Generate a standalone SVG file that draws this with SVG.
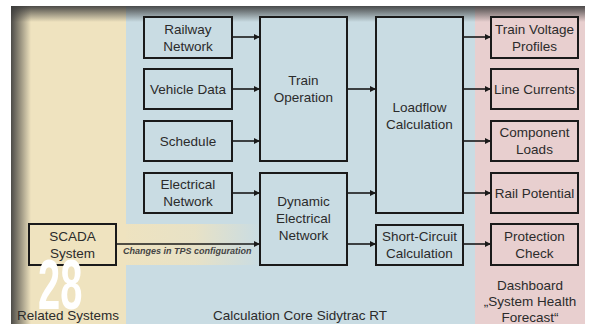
<svg xmlns="http://www.w3.org/2000/svg" width="589" height="324" viewBox="0 0 589 324">
<defs>
<linearGradient id="vTop" x1="0" y1="0" x2="0" y2="1">
<stop offset="0" stop-color="#3a3a3a" stop-opacity="0.9"/>
<stop offset="1" stop-color="#3a3a3a" stop-opacity="0"/>
</linearGradient>
<linearGradient id="vLeft" x1="0" y1="0" x2="1" y2="0">
<stop offset="0" stop-color="#3a3a3a" stop-opacity="0.9"/>
<stop offset="1" stop-color="#3a3a3a" stop-opacity="0"/>
</linearGradient>
<linearGradient id="band" x1="0" y1="0" x2="1" y2="0">
<stop offset="0" stop-color="#efe3bf" stop-opacity="1"/>
<stop offset="0.55" stop-color="#efe3bf" stop-opacity="0.8"/>
<stop offset="1" stop-color="#efe3bf" stop-opacity="0"/>
</linearGradient>
<marker id="ah" viewBox="0 0 8 8" refX="8" refY="4" markerWidth="6" markerHeight="6" markerUnits="userSpaceOnUse" orient="auto">
<path d="M0,0 L8,4 L0,8 z" fill="#1a1a1a"/>
</marker>
<style>
.box{stroke:#1a1a1a;stroke-width:2}
.b{fill:#c9dce3}
.y{fill:#efe3bf}
.p{fill:#e8cfcf}
.t{font-family:"Liberation Sans",Arial,sans-serif;font-size:13.5px;fill:#2b2b2b;text-anchor:middle}
.r{font-family:"Liberation Sans",Arial,sans-serif;font-size:13.5px;fill:#2b2b2b}
.c{stroke:#1a1a1a;stroke-width:1.6;fill:none;marker-end:url(#ah)}
.s{font-family:"Liberation Sans",Arial,sans-serif;font-size:9px;font-style:italic;font-weight:bold;fill:#444}
</style>
</defs>
<rect x="0" y="0" width="589" height="324" fill="#ffffff"/>
<rect x="11" y="6" width="115" height="318" fill="#efe3bf"/>
<rect x="126" y="6" width="349" height="318" fill="#c9dce3"/>
<rect x="475" y="6" width="110" height="318" fill="#e8cfcf"/>
<rect x="116" y="224" width="144" height="41" fill="url(#band)"/>
<rect x="11" y="6" width="574" height="16" fill="url(#vTop)"/>
<rect x="11" y="6" width="20" height="318" fill="url(#vLeft)"/>

<g id="connectors">
<line class="c" x1="232" y1="37" x2="260" y2="37"/>
<line class="c" x1="232" y1="89" x2="260" y2="89"/>
<line class="c" x1="232" y1="141" x2="260" y2="141"/>
<line class="c" x1="232" y1="193" x2="260" y2="193"/>
<line class="c" x1="347" y1="89" x2="376" y2="89"/>
<line class="c" x1="347" y1="193" x2="376" y2="193"/>
<line class="c" x1="347" y1="244" x2="376" y2="244"/>
<line class="c" x1="463" y1="37" x2="491" y2="37"/>
<line class="c" x1="463" y1="89" x2="491" y2="89"/>
<line class="c" x1="463" y1="141" x2="491" y2="141"/>
<line class="c" x1="463" y1="193" x2="491" y2="193"/>
<line class="c" x1="463" y1="244" x2="491" y2="244"/>
<line class="c" x1="116" y1="244" x2="260" y2="244"/>
<text class="s" x="123" y="254">Changes in TPS configuration</text>
</g>

<g id="railway"><rect class="box b" x="144" y="17" width="88" height="41"/><text class="t" x="188" y="34">Railway</text><text class="t" x="188" y="51">Network</text></g>
<g id="vehicle"><rect class="box b" x="144" y="69" width="88" height="40"/><text class="t" x="188" y="94">Vehicle Data</text></g>
<g id="schedule"><rect class="box b" x="144" y="121" width="88" height="40"/><text class="t" x="188" y="146">Schedule</text></g>
<g id="electrical"><rect class="box b" x="144" y="173" width="88" height="40"/><text class="t" x="188" y="189">Electrical</text><text class="t" x="188" y="206">Network</text></g>
<g id="trainop"><rect class="box b" x="260" y="17" width="87" height="144"/><text class="t" x="303.5" y="85">Train</text><text class="t" x="303.5" y="102">Operation</text></g>
<g id="dynamic"><rect class="box b" x="260" y="173" width="87" height="92"/><text class="t" x="303.5" y="206">Dynamic</text><text class="t" x="303.5" y="223">Electrical</text><text class="t" x="303.5" y="240">Network</text></g>
<g id="loadflow"><rect class="box b" x="376" y="17" width="87" height="196"/><text class="t" x="419.5" y="112">Loadflow</text><text class="t" x="419.5" y="129">Calculation</text></g>
<g id="shortcircuit"><rect class="box b" x="376" y="225" width="87" height="40"/><text class="t" x="419.5" y="241">Short-Circuit</text><text class="t" x="419.5" y="258">Calculation</text></g>
<g id="voltage"><rect class="box p" x="491" y="17" width="87" height="41"/><text class="t" x="534.5" y="34">Train Voltage</text><text class="t" x="534.5" y="51">Profiles</text></g>
<g id="currents"><rect class="box p" x="491" y="69" width="87" height="40"/><text class="t" x="534.5" y="94">Line Currents</text></g>
<g id="loads"><rect class="box p" x="491" y="121" width="87" height="40"/><text class="t" x="534.5" y="137">Component</text><text class="t" x="534.5" y="154">Loads</text></g>
<g id="rail"><rect class="box p" x="491" y="173" width="87" height="40"/><text class="t" x="534.5" y="198">Rail Potential</text></g>
<g id="protection"><rect class="box p" x="491" y="224" width="87" height="41"/><text class="t" x="534.5" y="241">Protection</text><text class="t" x="534.5" y="258">Check</text></g>
<g id="scada"><rect class="box y" x="29" y="224" width="87" height="41"/><text class="t" x="72.5" y="241">SCADA</text><text class="t" x="72.5" y="258">System</text></g>

<g id="labels">
<text class="r" x="17" y="320">Related Systems</text>
<text class="t" x="300" y="320">Calculation Core Sidytrac RT</text>
<text class="t" x="530" y="290">Dashboard</text>
<text class="t" x="530" y="306">„System Health</text>
<text class="t" x="530" y="322">Forecast“</text>
</g>
<text transform="translate(38,309) scale(0.57,1)" font-family="Liberation Sans,Arial,sans-serif" font-weight="bold" font-size="70" fill="#ffffff">28</text>
</svg>
